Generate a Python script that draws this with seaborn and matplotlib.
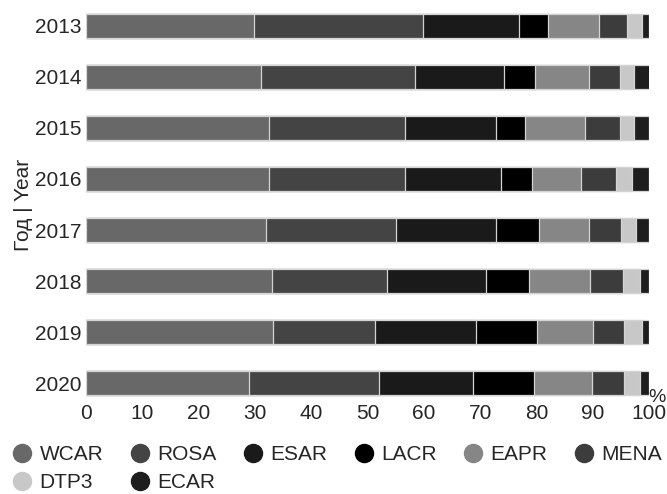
import matplotlib
matplotlib.use("Agg")
import matplotlib.pyplot as plt
from matplotlib.lines import Line2D
import seaborn as sns
import pandas as pd
import numpy as np

years = ["2013", "2014", "2015", "2016", "2017", "2018", "2019", "2020"]
regions = ["WCAR", "ROSA", "ESAR", "LACR", "EAPR", "MENA", "DTP3", "ECAR"]
WCAR = [29.8, 31.0, 32.5, 32.5, 31.9, 33.0, 33.2, 29.0]
ROSA = [30.1, 27.4, 24.2, 24.2, 23.1, 20.4, 18.1, 23.1]
ESAR = [17.0, 15.9, 16.2, 17.1, 17.9, 17.7, 17.9, 16.6]
LACR = [5.1, 5.5, 5.0, 5.5, 7.6, 7.6, 10.9, 10.8]
EAPR = [9.1, 9.6, 10.8, 8.7, 8.8, 10.8, 9.9, 10.3]
MENA = [5.0, 5.4, 6.2, 6.2, 5.7, 5.8, 5.6, 5.8]
DTP3 = [2.6, 2.5, 2.5, 2.7, 2.7, 3.1, 3.1, 2.8]
ECAR = [1.3, 2.8, 2.6, 3.1, 2.3, 1.6, 1.3, 1.6]
colors = ["#686868", "#444444", "#1a1a1a", "#000000", "#868686", "#3c3c3c", "#c8c8c8", "#1e1e1e"]

series = [WCAR, ROSA, ESAR, LACR, EAPR, MENA, DTP3, ECAR]
df = pd.DataFrame({r: v for r, v in zip(regions, series)})
cum = df[regions].cumsum(axis=1)
cum["Year"] = years

sns.set_style("white")
plt.rcParams["font.family"] = ["Liberation Sans", "DejaVu Sans"]

fig = plt.figure(figsize=(6.67, 4.94), dpi=100)
ax = fig.add_axes([86 / 667, 1 - 400 / 494, (649 - 86) / 667, (400 - 9) / 494])

for r, c in reversed(list(zip(regions, colors))):
    sns.barplot(data=cum, x=r, y="Year", order=years, color=c, orient="h",
                width=0.47, edgecolor="#d4d4d4", linewidth=0.9, ax=ax,
                saturation=1)

ax.set_xlim(0, 100)
ax.set_ylim(7.33, -0.33)
ax.set_xticks(np.arange(0, 101, 10))
ax.tick_params(axis="both", length=0, labelsize=15, pad=3)
ax.set_xlabel("")
ax.set_ylabel("Год | Year", fontsize=15, labelpad=2)
for s in ax.spines.values():
    s.set_visible(False)

fig.text(666 / 667, 1 - 397 / 494, "%", fontsize=14, ha="right", va="center")

# matplotlib fills legend columns first; reorder so rows read left-to-right
order = [0, 6, 1, 7, 2, 3, 4, 5]
handles = [Line2D([], [], marker="o", linestyle="", color=colors[i], markersize=13)
           for i in order]
labels = [regions[i] for i in order]
fig.legend(handles, labels, loc="upper left", bbox_to_anchor=(12 / 667, 1 - 445 / 494),
           ncol=6, frameon=False, fontsize=15, handletextpad=0.33,
           columnspacing=1.25, handlelength=1.0, labelspacing=0.45,
           borderaxespad=0, borderpad=0)

fig.savefig("out.png", dpi=100, facecolor="white")
